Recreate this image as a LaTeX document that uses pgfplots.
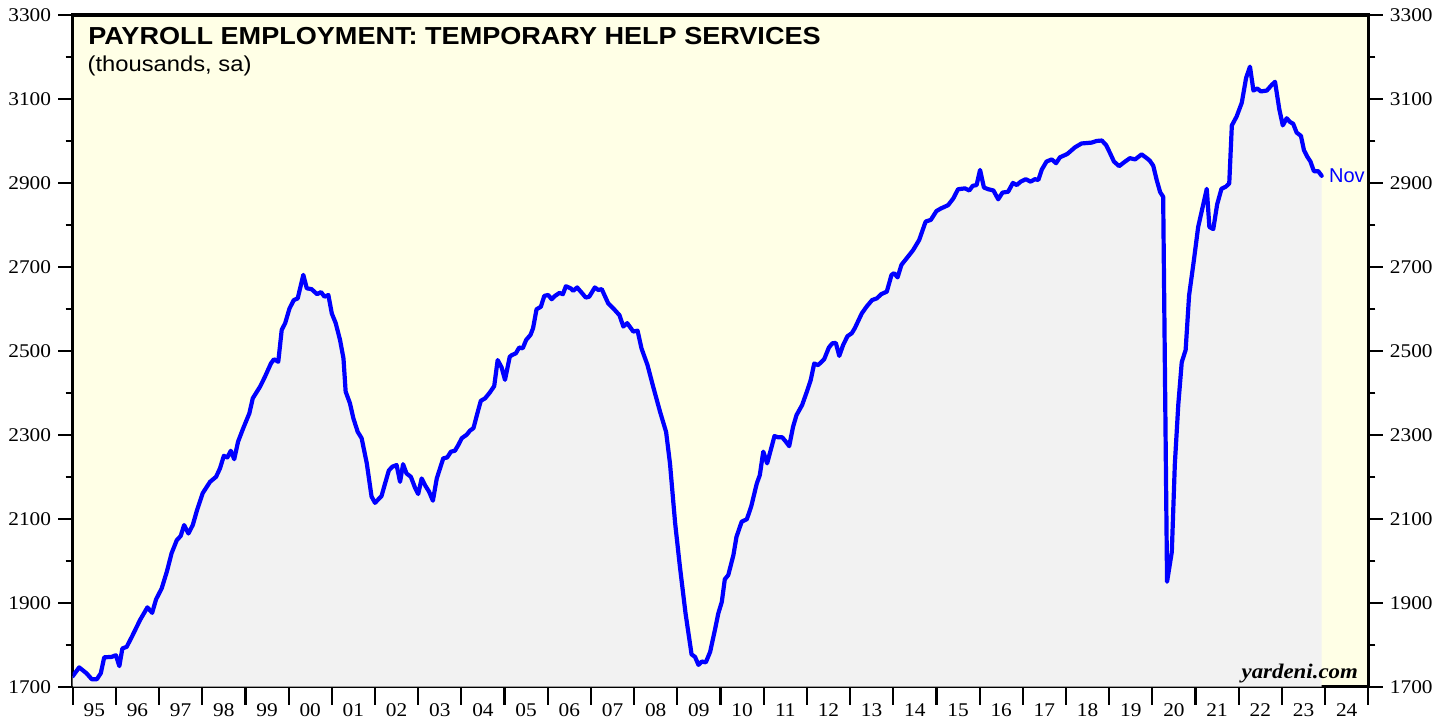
\documentclass[border=0pt]{standalone}
\usepackage{pgfplots}
\usepackage{pgfplotstable}
\usepackage{fontspec}
\pgfplotsset{compat=1.18}
\setmainfont[FakeStretch=1.1]{Liberation Serif}
\newfontfamily\arialw[FakeStretch=1.1]{Liberation Sans}
\newfontfamily\arial{Liberation Sans}
\definecolor{bgyellow}{HTML}{FFFFE6}
\definecolor{fillgrey}{HTML}{F2F2F2}
\pgfplotstableread{
x y
1995.00 1725
1995.15 1746
1995.32 1732
1995.44 1718
1995.56 1718
1995.65 1732
1995.73 1770
1995.90 1771
1996.00 1775
1996.08 1749
1996.15 1791
1996.25 1795
1996.37 1819
1996.56 1859
1996.73 1889
1996.84 1876
1996.93 1908
1997.06 1934
1997.18 1974
1997.29 2018
1997.41 2049
1997.50 2059
1997.58 2085
1997.68 2065
1997.78 2085
1997.88 2121
1998.01 2161
1998.18 2188
1998.32 2200
1998.41 2220
1998.50 2250
1998.58 2246
1998.66 2262
1998.74 2242
1998.83 2284
1998.95 2316
1999.09 2351
1999.17 2387
1999.34 2415
1999.45 2438
1999.59 2470
1999.66 2480
1999.76 2474
1999.84 2550
1999.92 2566
2000.02 2601
2000.12 2621
2000.21 2625
2000.34 2681
2000.42 2649
2000.53 2647
2000.66 2635
2000.75 2640
2000.83 2629
2000.92 2633
2001.00 2589
2001.09 2566
2001.19 2526
2001.27 2482
2001.32 2403
2001.42 2375
2001.50 2339
2001.60 2307
2001.69 2292
2001.81 2232
2001.92 2153
2002.00 2138
2002.15 2154
2002.23 2183
2002.32 2215
2002.40 2224
2002.50 2228
2002.58 2188
2002.65 2230
2002.73 2208
2002.83 2200
2002.93 2173
2003.00 2159
2003.08 2196
2003.17 2178
2003.25 2165
2003.34 2143
2003.43 2196
2003.58 2244
2003.67 2246
2003.76 2260
2003.85 2262
2003.93 2276
2004.01 2292
2004.12 2300
2004.20 2310
2004.28 2316
2004.38 2355
2004.45 2381
2004.55 2387
2004.66 2401
2004.76 2416
2004.84 2478
2004.93 2461
2005.01 2431
2005.12 2486
2005.17 2490
2005.26 2494
2005.34 2508
2005.42 2506
2005.50 2526
2005.60 2538
2005.66 2554
2005.74 2599
2005.84 2605
2005.92 2631
2006.01 2633
2006.09 2623
2006.17 2631
2006.27 2638
2006.35 2635
2006.42 2654
2006.53 2649
2006.59 2643
2006.68 2651
2006.79 2638
2006.88 2627
2006.96 2629
2007.09 2651
2007.17 2645
2007.25 2647
2007.40 2613
2007.52 2601
2007.66 2585
2007.75 2558
2007.84 2566
2007.98 2546
2008.08 2548
2008.17 2506
2008.31 2466
2008.44 2415
2008.60 2355
2008.74 2307
2008.83 2232
2008.95 2089
2009.06 1986
2009.19 1875
2009.33 1777
2009.41 1771
2009.49 1752
2009.57 1760
2009.66 1758
2009.76 1783
2009.87 1835
2009.95 1875
2010.03 1902
2010.10 1956
2010.18 1966
2010.30 2014
2010.37 2057
2010.49 2093
2010.61 2099
2010.71 2129
2010.84 2184
2010.91 2204
2010.99 2260
2011.08 2232
2011.25 2297
2011.34 2294
2011.43 2294
2011.51 2284
2011.59 2273
2011.68 2319
2011.76 2347
2011.89 2371
2012.00 2403
2012.09 2431
2012.17 2470
2012.26 2466
2012.40 2480
2012.51 2508
2012.59 2518
2012.67 2519
2012.75 2488
2012.84 2514
2012.94 2535
2013.04 2542
2013.11 2554
2013.27 2589
2013.38 2605
2013.51 2621
2013.62 2625
2013.72 2635
2013.85 2641
2013.96 2681
2014.02 2685
2014.10 2675
2014.19 2705
2014.33 2723
2014.46 2740
2014.60 2764
2014.75 2808
2014.87 2812
2015.00 2833
2015.10 2839
2015.27 2847
2015.39 2863
2015.50 2885
2015.66 2887
2015.76 2882
2015.84 2893
2015.93 2895
2016.01 2931
2016.10 2889
2016.20 2885
2016.32 2882
2016.43 2861
2016.53 2877
2016.66 2879
2016.77 2900
2016.86 2895
2016.95 2903
2017.07 2909
2017.18 2903
2017.28 2909
2017.36 2907
2017.44 2932
2017.55 2951
2017.67 2956
2017.77 2947
2017.86 2961
2018.03 2969
2018.21 2985
2018.36 2994
2018.59 2996
2018.71 3000
2018.83 3001
2018.93 2990
2019.02 2971
2019.11 2951
2019.23 2940
2019.37 2951
2019.48 2959
2019.60 2956
2019.75 2968
2019.87 2959
2019.94 2953
2020.02 2941
2020.10 2907
2020.18 2878
2020.25 2867
2020.34 1950
2020.45 2021
2020.52 2230
2020.60 2372
2020.68 2473
2020.77 2502
2020.85 2632
2020.96 2715
2021.06 2795
2021.26 2886
2021.32 2795
2021.41 2790
2021.50 2849
2021.60 2886
2021.70 2891
2021.78 2899
2021.84 3037
2021.95 3058
2022.07 3091
2022.17 3150
2022.26 3177
2022.34 3120
2022.43 3125
2022.51 3118
2022.65 3120
2022.76 3133
2022.84 3141
2022.94 3075
2023.02 3037
2023.11 3054
2023.19 3045
2023.26 3041
2023.34 3020
2023.44 3012
2023.51 2978
2023.59 2962
2023.66 2951
2023.74 2928
2023.84 2928
2023.92 2917
}\data
\begin{document}
\begin{tikzpicture}
\useasboundingbox (-36.35pt,-16.15pt) rectangle (688.65pt,343.35pt);
\pgfplotsset{
  common/.style={
    scale only axis, width=647.8pt, height=335.85pt,
    xmin=1995, xmax=2025, ymin=1700, ymax=3300,
    tick align=outside,
    /pgf/number format/1000 sep={},
    /pgf/number format/assume math mode=true,
    tick label style={font=\fontsize{9.7}{11}\selectfont},
  }
}
% main axis with data and x ticks
\begin{axis}[common,
  axis background/.style={fill=bgyellow},
  axis line style={line width=1.6pt, black},
  xtick={1995,1996,...,2025},
  x tick label as interval,
  xticklabels={95,96,97,98,99,00,01,02,03,04,05,06,07,08,09,10,11,12,13,14,15,16,17,18,19,20,21,22,23,24},
  xtick pos=bottom,
  major tick length=9pt,
  xtick style={line width=1.1pt, black},
  xticklabel style={yshift=4pt},
  ytick=\empty,
]
\addplot[fill=fillgrey, draw=none] table[x=x,y=y]{\data} \closedcycle;
\addplot[blue, line width=2.1pt, line join=round, line cap=round] table[x=x,y=y]{\data};
\node[anchor=west, text=blue, font=\arial\fontsize{10}{12}\selectfont, xshift=2.5pt, inner sep=1pt] at (axis cs:2023.92,2917) {Nov};
\node[anchor=base west, font=\arialw\bfseries\fontsize{12.3}{14}\selectfont, inner sep=0pt, xshift=7.65pt, yshift=-14.5pt] at (rel axis cs:0,1) {PAYROLL EMPLOYMENT: TEMPORARY HELP SERVICES};
\node[anchor=base west, font=\arialw\fontsize{10.8}{13}\selectfont, inner sep=0pt, xshift=7.3pt, yshift=-28pt] at (rel axis cs:0,1) {(thousands, sa)};
\node[anchor=base east, font=\bfseries\itshape\fontsize{10.4}{12}\selectfont, inner sep=0pt, xshift=-5pt, yshift=4.2pt] at (rel axis cs:1,0) {yardeni.com};
\end{axis}
% y ticks both sides, labels left
\begin{axis}[common,
  axis line style={draw=none},
  xtick=\empty,
  ytick={1700,1900,...,3300},
  minor ytick={1800,2000,...,3200},
  ytick pos=both,
  yticklabel pos=left,
  major tick length=7.3pt,
  minor tick length=3.5pt,
  y tick style={line width=0.8pt, black},
]
\end{axis}
% labels right
\begin{axis}[common,
  axis line style={draw=none},
  xtick=\empty,
  ytick={1700,1900,...,3300},
  ytick pos=right,
  yticklabel pos=right,
  major tick length=7.3pt,
  y tick style={draw=none},
]
\end{axis}
\end{tikzpicture}
\end{document}
